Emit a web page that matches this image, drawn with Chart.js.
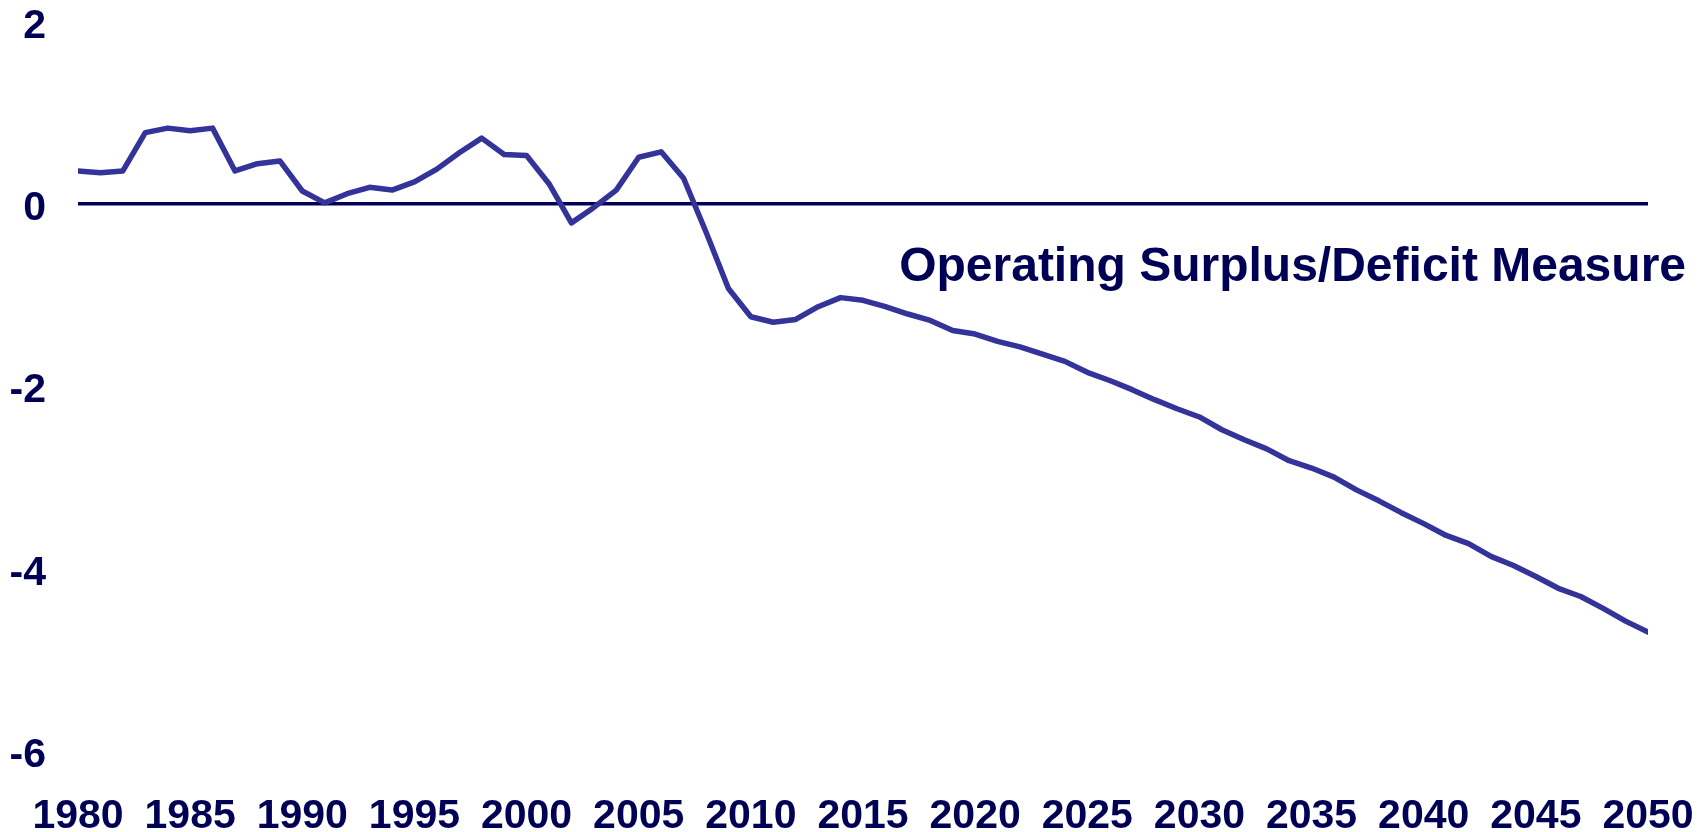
<!DOCTYPE html>
<html>
<head>
<meta charset="utf-8">
<script src="https://cdn.jsdelivr.net/npm/chart.js@4/dist/chart.umd.min.js"></script>
<style>
  html, body { margin: 0; padding: 0; background: #ffffff; }
  #wrap { width: 1706px; height: 832px; position: relative; }
  canvas { display: block; }
</style>
</head>
<body>
<div id="wrap"><canvas id="c" width="1706" height="832"></canvas></div>
<script>
// ---- Data ----
const years = [
  1980, 1981, 1982, 1983, 1984, 1985, 1986, 1987, 1988, 1989,
  1990, 1991, 1992, 1993, 1994, 1995, 1996, 1997, 1998, 1999,
  2000, 2001, 2002, 2003, 2004, 2005, 2006, 2007, 2008, 2009,
  2010, 2011, 2012, 2013, 2014, 2015, 2016, 2017, 2018, 2019,
  2020, 2021, 2022, 2023, 2024, 2025, 2026, 2027, 2028, 2029,
  2030, 2031, 2032, 2033, 2034, 2035, 2036, 2037, 2038, 2039,
  2040, 2041, 2042, 2043, 2044, 2045, 2046, 2047, 2048, 2049,
  2050
];
const operatingMeasure = [
  0.36, 0.34, 0.36, 0.78, 0.83, 0.80, 0.83, 0.36, 0.44, 0.47,
  0.14, 0.01, 0.11, 0.18, 0.15, 0.24, 0.38, 0.56, 0.72, 0.54,
  0.53, 0.22, -0.21, -0.04, 0.15, 0.51, 0.57, 0.28, -0.31, -0.93,
  -1.24, -1.30, -1.27, -1.13, -1.03, -1.06, -1.13, -1.21, -1.28, -1.39,
  -1.43, -1.51, -1.57, -1.65, -1.73, -1.85, -1.94, -2.04, -2.15, -2.25,
  -2.34, -2.48, -2.59, -2.69, -2.82, -2.90, -3.00, -3.14, -3.26, -3.39,
  -3.51, -3.64, -3.73, -3.87, -3.97, -4.09, -4.22, -4.31, -4.44, -4.58,
  -4.70
];
const yTickValues = [2, 0, -2, -4, -6];
const xTickStep = 5;
const seriesLabel = 'Operating Surplus/Deficit Measure';
const annotationText = 'Operating Surplus/Deficit Measure';

// ---- Styles ----
const NAVY = '#000055';
const LINE = '#333399';
const FONT = '"Liberation Sans", Arial, Helvetica, sans-serif';
const CLEAR = 'rgba(0,0,0,0)';

const points = years.map((yr, i) => ({ x: yr, y: operatingMeasure[i] }));

const annotationPlugin = {
  id: 'annotationText',
  afterDatasetsDraw(chart) {
    const { ctx, chartArea, scales } = chart;
    ctx.save();
    ctx.font = 'bold 48px ' + FONT;
    ctx.fillStyle = NAVY;
    ctx.textAlign = 'right';
    ctx.textBaseline = 'middle';
    ctx.fillText(annotationText, chartArea.right + 38, scales.y.getPixelForValue(-0.7));
    ctx.restore();
  }
};

new Chart(document.getElementById('c'), {
  type: 'line',
  data: {
    datasets: [{
      label: seriesLabel,
      data: points,
      borderColor: LINE,
      backgroundColor: LINE,
      borderWidth: 5.5,
      pointRadius: 0,
      pointHoverRadius: 0,
      tension: 0,
      borderJoinStyle: 'round',
      borderCapStyle: 'round',
      fill: false
    }]
  },
  options: {
    responsive: false,
    animation: false,
    devicePixelRatio: 1,
    layout: { padding: { top: 21.5, right: 58, bottom: 0, left: 0 } },
    plugins: {
      legend: { display: false },
      tooltip: { enabled: false },
      title: { display: false }
    },
    scales: {
      x: {
        type: 'linear',
        min: years[0],
        max: years[years.length - 1],
        border: { display: false },
        grid: {
          display: true,
          drawOnChartArea: false,
          drawTicks: true,
          tickLength: 46,
          color: CLEAR,
          tickColor: CLEAR
        },
        ticks: {
          stepSize: xTickStep,
          autoSkip: false,
          maxRotation: 0,
          padding: 0,
          color: NAVY,
          font: { family: FONT, size: 41, weight: 'bold', lineHeight: 1 },
          callback: (v) => String(v)
        },
        afterFit: (scale) => { scale.height = 81.5; }
      },
      y: {
        type: 'linear',
        min: Math.min(...yTickValues),
        max: Math.max(...yTickValues),
        border: { display: false },
        grid: {
          drawTicks: true,
          tickLength: 32,
          tickColor: CLEAR,
          lineWidth: 3.5,
          color: (c) => (c.tick && c.tick.value === 0 ? NAVY : CLEAR)
        },
        afterBuildTicks: (scale) => { scale.ticks = yTickValues.map(v => ({ value: v })); },
        ticks: {
          padding: 0,
          color: NAVY,
          // empty first line nudges each label slightly below its gridline, as in the reference
          font: { family: FONT, size: 41, weight: 'bold', lineHeight: '10px' },
          callback: (v) => ['', String(v)]
        },
        afterFit: (scale) => { scale.width = 78; }
      }
    }
  },
  plugins: [annotationPlugin]
});
</script>
</body>
</html>
